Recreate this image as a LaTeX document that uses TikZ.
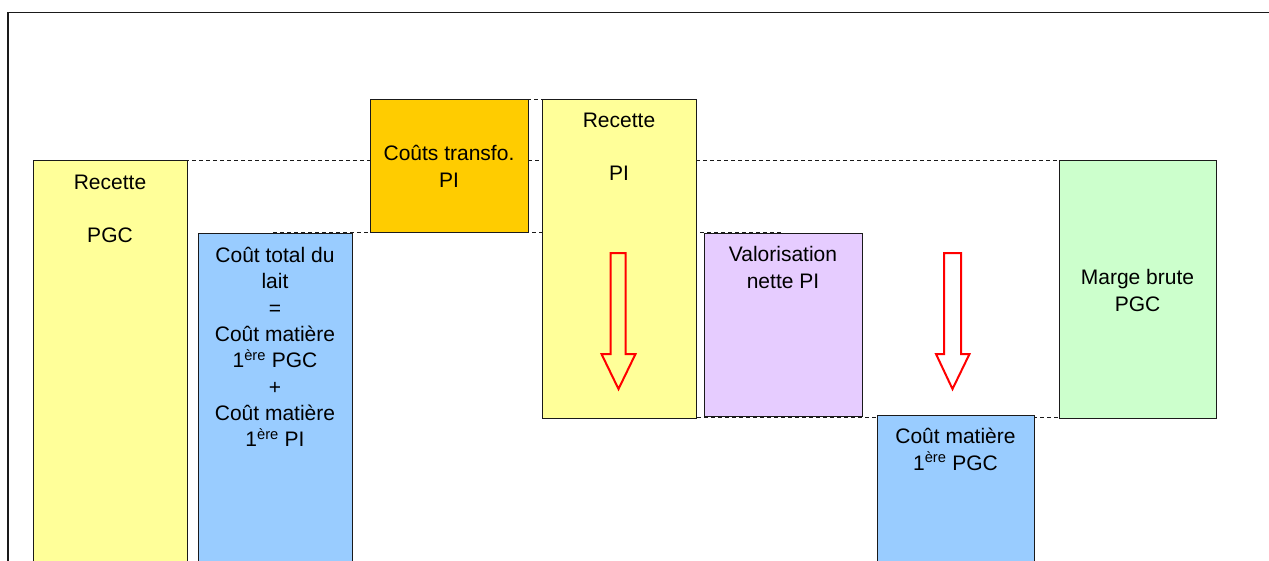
\documentclass[tikz,border=0pt]{standalone}
\usepackage{fontspec}
\setmainfont{Liberation Sans}
\definecolor{yel}{HTML}{FFFF99}
\definecolor{blu}{HTML}{99CCFF}
\definecolor{ora}{HTML}{FFCC00}
\definecolor{lav}{HTML}{E6CCFF}
\definecolor{grn}{HTML}{CCFFCC}
\definecolor{edge}{HTML}{1A1A1A}
\begin{document}
\begin{tikzpicture}[x=1pt,y=-1pt,
  box/.style={draw=edge,line width=1.2pt,anchor=north west,inner sep=0pt},
  txt/.style={align=center,inner sep=0pt,font=\fontsize{21}{26.3}\selectfont},
  guide/.style={draw=edge,line width=0.9pt,dash pattern=on 4pt off 3pt},
  blockarrow/.style={draw=red,line width=2pt,line join=miter}]
\clip (0,0) rectangle (1269,560);
\fill[white] (0,0) rectangle (1269,560);
% frame
\draw[line width=1.6pt,edge] (8,12.3) rectangle (1300,600);
% guide lines
\draw[guide] (108,160) -- (1059,160);
\draw[guide] (450,99) -- (620,99);
\draw[guide] (273,232.5) -- (781,232.5);
\draw[guide] (620,417) -- (1137,417);
% boxes
\node[box,fill=yel,minimum width=154pt,minimum height=440pt] (rpgc) at (33,160) {};
\node[box,fill=blu,minimum width=154pt,minimum height=367pt] (ctl) at (198,233) {};
\node[box,fill=ora,minimum width=158pt,minimum height=133pt] (ctr) at (370,99) {};
\node[box,fill=yel,minimum width=154pt,minimum height=319pt] (rpi) at (542,99) {};
\node[box,fill=lav,minimum width=158pt,minimum height=183pt] (val) at (704,233) {};
\node[box,fill=blu,minimum width=157pt,minimum height=185pt] (cmp) at (877,415) {};
\node[box,fill=grn,minimum width=157pt,minimum height=258pt] (mb) at (1059,160) {};
% texts
\node[txt] (trpgc) at (110,209) {Recette\\[26.3pt]PGC};
\node[txt] (tctl) at (275,347) {Coût total du\\lait\\=\\Coût matière\\1\textsuperscript{ère} PGC\\+\\Coût matière\\1\textsuperscript{ère} PI};
\node[txt] (tctr) at (449,166.5) {Coûts transfo.\\PI};
\node[txt] (trpi) at (619,147) {Recette\\[26.3pt]PI};
\node[txt] (tval) at (783,267.5) {Valorisation\\nette PI};
\node[txt] (tcmp) at (955.5,449.5) {Coût matière\\1\textsuperscript{ère} PGC};
\node[txt] (tmb) at (1137.5,290.5) {Marge brute\\PGC};
% block arrows
\draw[blockarrow] (610.5,253) -- (625.5,253) -- (625.5,354) -- (635.5,354) -- (618.5,389) -- (601.5,354) -- (610.5,354) -- cycle;
\draw[blockarrow] (944,253) -- (961,253) -- (961,354) -- (969.5,354) -- (952.5,389) -- (936,354) -- (944,354) -- cycle;
\end{tikzpicture}
\end{document}
